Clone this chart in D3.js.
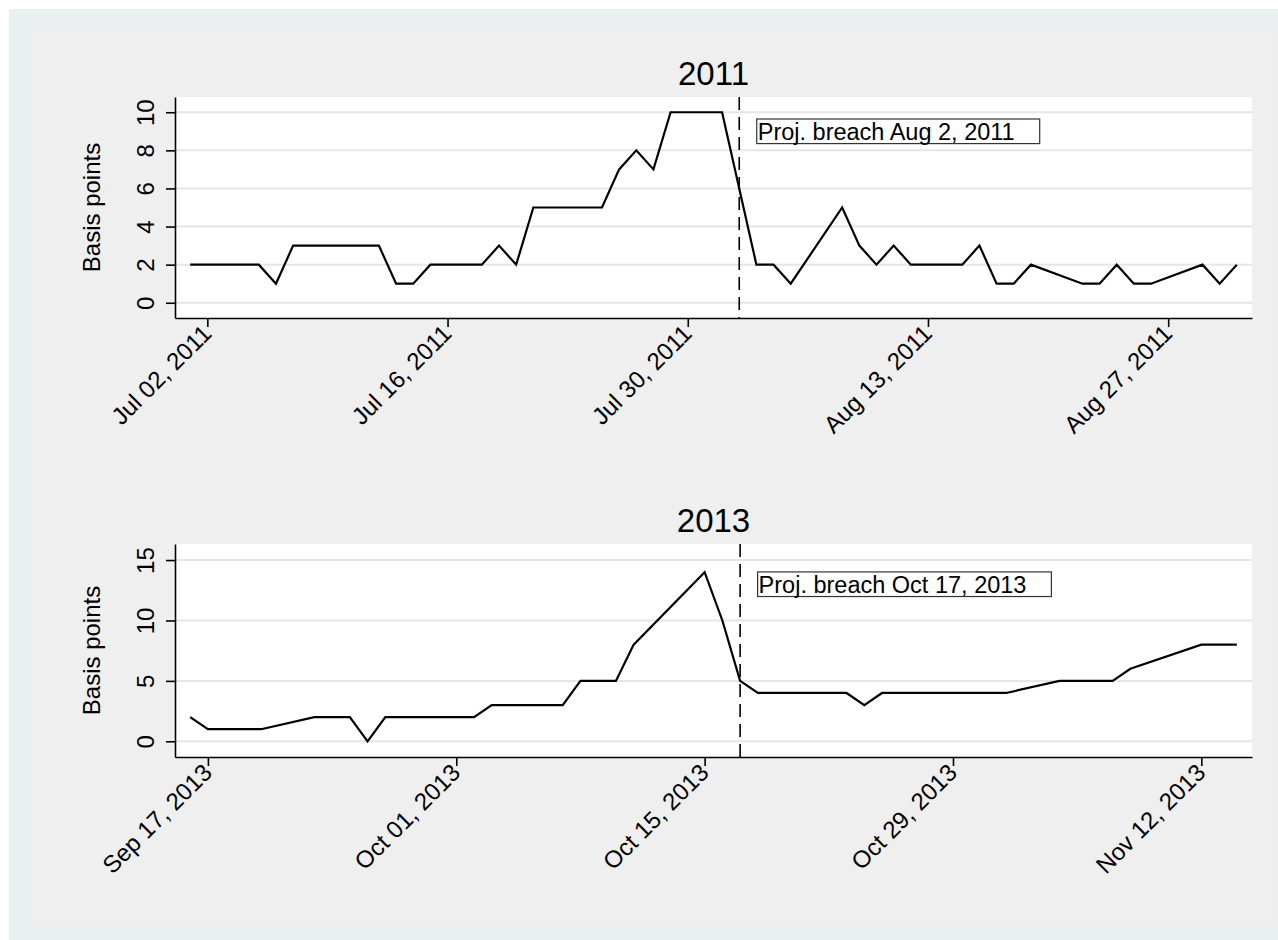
<!DOCTYPE html>
<html>
<head>
<meta charset="utf-8">
<script src="https://cdn.jsdelivr.net/npm/d3@7"></script>
<style>
  html, body { margin: 0; padding: 0; background: #ffffff; }
  svg { display: block; }
  text { font-family: "Liberation Sans", Arial, Helvetica, sans-serif; fill: #000; }
</style>
</head>
<body>
<svg id="chart" width="1278" height="940"></svg>
<script>
// ---- 2011 debt-ceiling episode (daily, basis points) ----
const dates2011 = [
  "2011-07-01","2011-07-05","2011-07-06","2011-07-07","2011-07-08",
  "2011-07-11","2011-07-12","2011-07-13","2011-07-14","2011-07-15",
  "2011-07-18","2011-07-19","2011-07-20","2011-07-21","2011-07-22",
  "2011-07-25","2011-07-26","2011-07-27","2011-07-28","2011-07-29",
  "2011-08-01","2011-08-02","2011-08-03","2011-08-04","2011-08-05",
  "2011-08-08","2011-08-09","2011-08-10","2011-08-11","2011-08-12",
  "2011-08-15","2011-08-16","2011-08-17","2011-08-18","2011-08-19",
  "2011-08-22","2011-08-23","2011-08-24","2011-08-25","2011-08-26",
  "2011-08-29","2011-08-30","2011-08-31"
];
const bp2011 = [
  2, 2, 1, 3, 3,
  3, 3, 1, 1, 2,
  2, 3, 2, 5, 5,
  5, 7, 8, 7, 10,
  10, 6, 2, 2, 1,
  5, 3, 2, 3, 2,
  2, 3, 1, 1, 2,
  1, 1, 2, 1, 1,
  2, 1, 2
];
const ticks2011 = ["2011-07-02","2011-07-16","2011-07-30","2011-08-13","2011-08-27"];
const yTicks2011 = [0, 2, 4, 6, 8, 10];
const breach2011 = "2011-08-02";
const breachLabel2011 = "Proj. breach Aug 2, 2011";
const breachLabelY2011 = 9;

// ---- 2013 debt-ceiling episode ----
const dates2013 = [
  "2013-09-16","2013-09-17","2013-09-18","2013-09-19","2013-09-20",
  "2013-09-23","2013-09-24","2013-09-25","2013-09-26","2013-09-27",
  "2013-09-30","2013-10-01","2013-10-02","2013-10-03","2013-10-04",
  "2013-10-07","2013-10-08","2013-10-09","2013-10-10","2013-10-11",
  "2013-10-15","2013-10-16","2013-10-17","2013-10-18",
  "2013-10-21","2013-10-22","2013-10-23","2013-10-24","2013-10-25",
  "2013-10-28","2013-10-29","2013-10-30","2013-10-31","2013-11-01",
  "2013-11-04","2013-11-05","2013-11-06","2013-11-07","2013-11-08",
  "2013-11-12","2013-11-13","2013-11-14"
];
const bp2013 = [
  2, 1, 1, 1, 1,
  2, 2, 2, 0, 2,
  2, 2, 2, 3, 3,
  3, 5, 5, 5, 8,
  14, 10, 5, 4,
  4, 4, 4, 3, 4,
  4, 4, 4, 4, 4,
  5, 5, 5, 5, 6,
  8, 8, 8
];
const ticks2013 = ["2013-09-17","2013-10-01","2013-10-15","2013-10-29","2013-11-12"];
const yTicks2013 = [0, 5, 10, 15];
const breach2013 = "2013-10-17";
const breachLabel2013 = "Proj. breach Oct 17, 2013";
const breachLabelY2013 = 13;

const parse = d3.utcParse("%Y-%m-%d");
const fmt = d3.utcFormat("%b %d, %Y");

const svg = d3.select("#chart");

// Background frame
svg.append("rect").attr("x", 9).attr("y", 9).attr("width", 1269).attr("height", 931).attr("fill", "#eaf0f2");
svg.append("rect").attr("x", 30).attr("y", 29).attr("width", 1247).attr("height", 896).attr("fill", "#efefef");

function panel(opts) {
  const { title, dates, values, xTicks, yTicks, yDomain, breach, label, labelY, top, bottom } = opts;
  const left = 175, right = 1252;
  const pts = dates.map((d, i) => ({ date: parse(d), v: values[i] }));
  const first = pts[0].date, last = pts[pts.length - 1].date;
  const pad = (last - first) * 0.0145;
  const x = d3.scaleUtc().domain([new Date(+first - pad), new Date(+last + pad)]).range([left, right]);
  const y = d3.scaleLinear().domain(yDomain).range([bottom, top]);

  const g = svg.append("g");

  // plot area
  g.append("rect").attr("x", left).attr("y", top).attr("width", right - left).attr("height", bottom - top).attr("fill", "#ffffff");

  // horizontal gridlines
  g.append("g").selectAll("line").data(yTicks).join("line")
    .attr("x1", left).attr("x2", right)
    .attr("y1", d => y(d)).attr("y2", d => y(d))
    .attr("stroke", "#e6e6e6").attr("stroke-width", 2);

  // title
  g.append("text").attr("x", (left + right) / 2).attr("y", top - 12)
    .attr("text-anchor", "middle").style("font-size", "33px").text(title);

  // y axis
  const yAxis = g.append("g").attr("transform", `translate(${left},0)`)
    .call(d3.axisLeft(y).tickValues(yTicks).tickSize(9).tickSizeOuter(0).tickFormat(d3.format("d")));
  yAxis.select(".domain").attr("stroke", "#000").attr("stroke-width", 1.6);
  yAxis.selectAll(".tick line").attr("stroke", "#000").attr("stroke-width", 1.6);
  yAxis.selectAll(".tick text")
    .attr("transform", "rotate(-90)")
    .attr("x", 0).attr("y", -21.5).attr("dy", 0)
    .attr("text-anchor", "middle")
    .style("font-size", "24px").attr("font-family", null);

  // y axis title
  g.append("text")
    .attr("transform", `translate(100,${(top + bottom) / 2}) rotate(-90)`)
    .attr("text-anchor", "middle").style("font-size", "24px").text("Basis points");

  // x axis
  const xAxis = g.append("g").attr("transform", `translate(0,${bottom})`)
    .call(d3.axisBottom(x).tickValues(xTicks.map(parse)).tickSize(9).tickSizeOuter(0).tickFormat(fmt));
  xAxis.select(".domain").attr("stroke", "#000").attr("stroke-width", 1.6);
  xAxis.selectAll(".tick line").attr("stroke", "#000").attr("stroke-width", 1.6);
  xAxis.selectAll(".tick text")
    .attr("x", 0).attr("y", 0).attr("dy", 0)
    .attr("transform", "translate(5,17) rotate(-45)")
    .attr("text-anchor", "end")
    .style("font-size", "24px").attr("font-family", null);

  // series line
  g.append("path").datum(pts)
    .attr("fill", "none").attr("stroke", "#000").attr("stroke-width", 2.2)
    .attr("stroke-linejoin", "miter")
    .attr("d", d3.line().x(d => x(d.date)).y(d => y(d.v)));

  // projected breach date
  const bx = x(parse(breach));
  g.append("line").attr("x1", bx).attr("x2", bx).attr("y1", top).attr("y2", bottom)
    .attr("stroke", "#000").attr("stroke-width", 1.6).attr("stroke-dasharray", "13,7");

  const ty = y(labelY);
  const box = g.append("rect")
    .attr("x", bx + 17.5).attr("y", ty - 12.3).attr("height", 24.6)
    .attr("fill", "#ffffff").attr("stroke", "#333").attr("stroke-width", 1.2);
  const t = g.append("text").attr("x", bx + 18.5).attr("y", ty + 8.3)
    .style("font-size", "23.5px").text(label);
  box.attr("width", t.node().getComputedTextLength() + 26);
}

panel({
  title: "2011", dates: dates2011, values: bp2011, xTicks: ticks2011, yTicks: yTicks2011,
  yDomain: [-0.8, 10.8], breach: breach2011, label: breachLabel2011, labelY: breachLabelY2011,
  top: 97, bottom: 318
});
panel({
  title: "2013", dates: dates2013, values: bp2013, xTicks: ticks2013, yTicks: yTicks2013,
  yDomain: [-1.3, 16.33], breach: breach2013, label: breachLabel2013, labelY: breachLabelY2013,
  top: 544, bottom: 757
});
</script>
</body>
</html>
